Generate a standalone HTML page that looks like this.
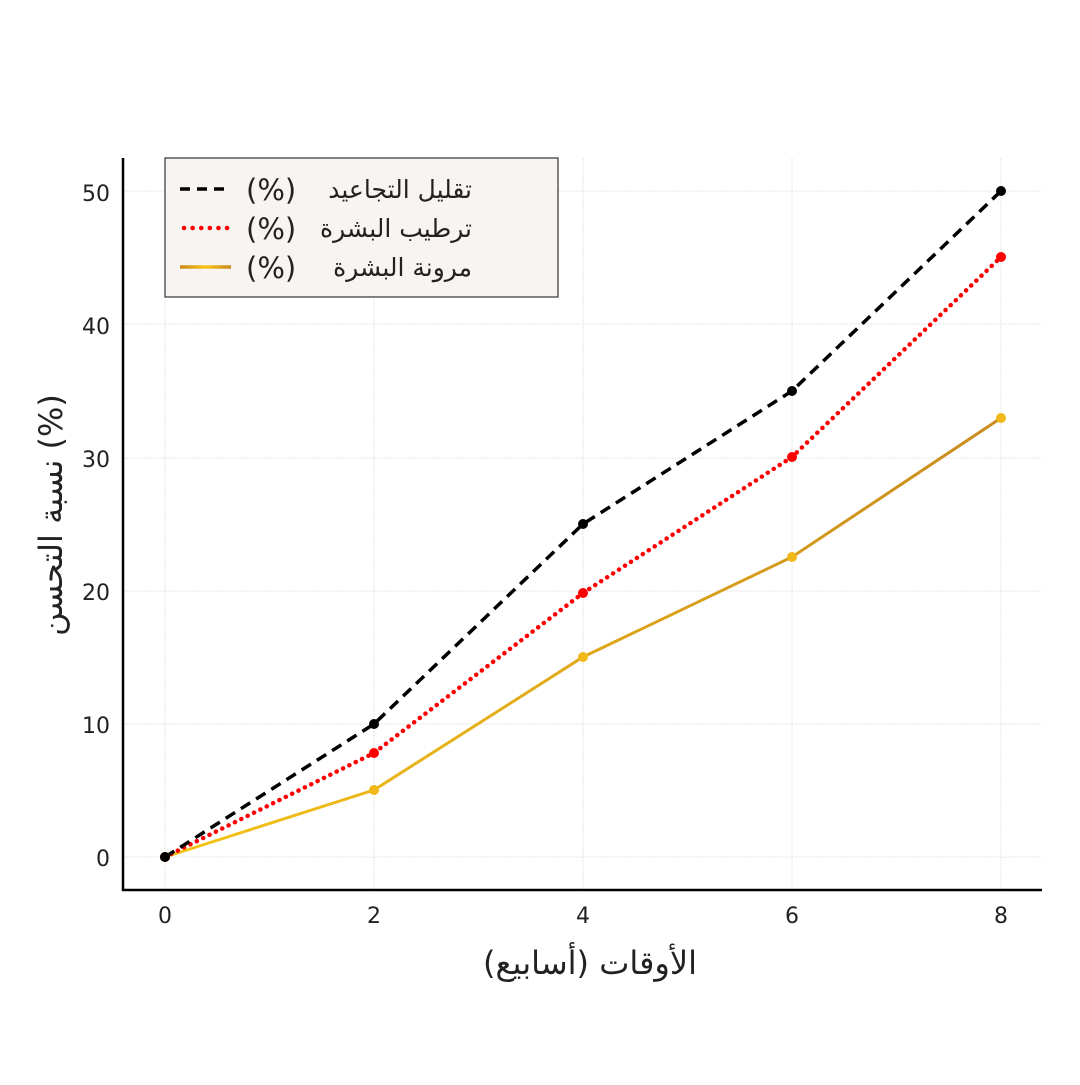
<!DOCTYPE html>
<html><head><meta charset="utf-8"><style>html,body{margin:0;padding:0;background:#fff}</style></head><body>
<svg width="1080" height="1080" xmlns="http://www.w3.org/2000/svg" font-family="'DejaVu Sans','Noto Sans CJK SC',sans-serif">
<rect width="1080" height="1080" fill="#fff"/>
<defs>
<linearGradient id="g" gradientUnits="userSpaceOnUse" x1="165" y1="0" x2="1001" y2="0"><stop offset="0" stop-color="#f5c518"/><stop offset="1" stop-color="#c98a1c"/></linearGradient>
<linearGradient id="g2" gradientUnits="userSpaceOnUse" x1="180" y1="0" x2="231" y2="0"><stop offset="0" stop-color="#c98a1c"/><stop offset="0.5" stop-color="#f5c518"/><stop offset="1" stop-color="#c98a1c"/></linearGradient>
</defs>
<g stroke="#e4e4e4" stroke-width="1" stroke-dasharray="2,1">
<line x1="123" x2="1042" y1="857" y2="857"/><line x1="123" x2="1042" y1="724" y2="724"/><line x1="123" x2="1042" y1="591" y2="591"/><line x1="123" x2="1042" y1="458" y2="458"/><line x1="123" x2="1042" y1="324" y2="324"/><line x1="123" x2="1042" y1="191" y2="191"/>
<line x1="165" x2="165" y1="158" y2="890"/><line x1="374" x2="374" y1="158" y2="890"/><line x1="583" x2="583" y1="158" y2="890"/><line x1="792" x2="792" y1="158" y2="890"/><line x1="1001" x2="1001" y1="158" y2="890"/>
</g>
<polyline points="165,857 374,790 583,657 792,557 1001,418" fill="none" stroke="url(#g)" stroke-width="3"/>
<polyline points="165,857 374,753 583,593 792,457 1001,257" fill="none" stroke="#ff0000" stroke-width="4.5" stroke-dasharray="0.1,7" stroke-linecap="round"/>
<polyline points="165,857 374,724 583,524 792,391 1001,191" fill="none" stroke="#000" stroke-width="3.5" stroke-dasharray="11,7"/>
<g fill="#f0b818"><circle cx="165" cy="857" r="5"/><circle cx="374" cy="790" r="5"/><circle cx="583" cy="657" r="5"/><circle cx="792" cy="557" r="5"/><circle cx="1001" cy="418" r="5"/></g>
<g fill="#ff0000"><circle cx="165" cy="857" r="5"/><circle cx="374" cy="753" r="5"/><circle cx="583" cy="593" r="5"/><circle cx="792" cy="457" r="5"/><circle cx="1001" cy="257" r="5"/></g>
<g fill="#000"><circle cx="165" cy="857" r="5"/><circle cx="374" cy="724" r="5"/><circle cx="583" cy="524" r="5"/><circle cx="792" cy="391" r="5"/><circle cx="1001" cy="191" r="5"/></g>
<line x1="123" y1="158" x2="123" y2="891" stroke="#000" stroke-width="2.5"/>
<line x1="122" y1="890" x2="1042" y2="890" stroke="#000" stroke-width="2.5"/>
<g font-size="22" fill="#222" text-anchor="end">
<text x="110" y="866">0</text><text x="110" y="733">10</text><text x="110" y="600">20</text><text x="110" y="467">30</text><text x="110" y="334">40</text><text x="110" y="201">50</text>
</g>
<g font-size="22" fill="#222" text-anchor="middle">
<text x="165" y="923">0</text><text x="374" y="923">2</text><text x="583" y="923">4</text><text x="792" y="923">6</text><text x="1001" y="923">8</text>
</g>
<text x="590" y="974" font-size="32" text-anchor="middle" fill="#222">الأوقات (أسابيع)</text>
<text transform="translate(62,515) rotate(-90)" font-size="32" text-anchor="middle" fill="#222">نسبة التحسن (%)</text>
<rect x="165" y="158" width="393" height="139" fill="#f8f4f2" stroke="#333" stroke-width="1.2"/>
<line x1="180" y1="189" x2="230" y2="189" stroke="#000" stroke-width="3.5" stroke-dasharray="10,7"/>
<line x1="184" y1="228" x2="230" y2="228" stroke="#ff0000" stroke-width="4.5" stroke-dasharray="0.1,8.5" stroke-linecap="round"/>
<line x1="180" y1="267" x2="231" y2="267" stroke="url(#g2)" stroke-width="3.5"/>
<g font-size="25" fill="#222">
<text x="472" y="198" text-anchor="end">تقليل التجاعيد</text>
<text x="472" y="237" text-anchor="end">ترطيب البشرة</text>
<text x="472" y="276" text-anchor="end">مرونة البشرة</text>
</g>
<g font-size="29" fill="#222">
<text x="246" y="200">(%)</text>
<text x="246" y="239">(%)</text>
<text x="246" y="278">(%)</text>
</g>
</svg>
</body></html>
